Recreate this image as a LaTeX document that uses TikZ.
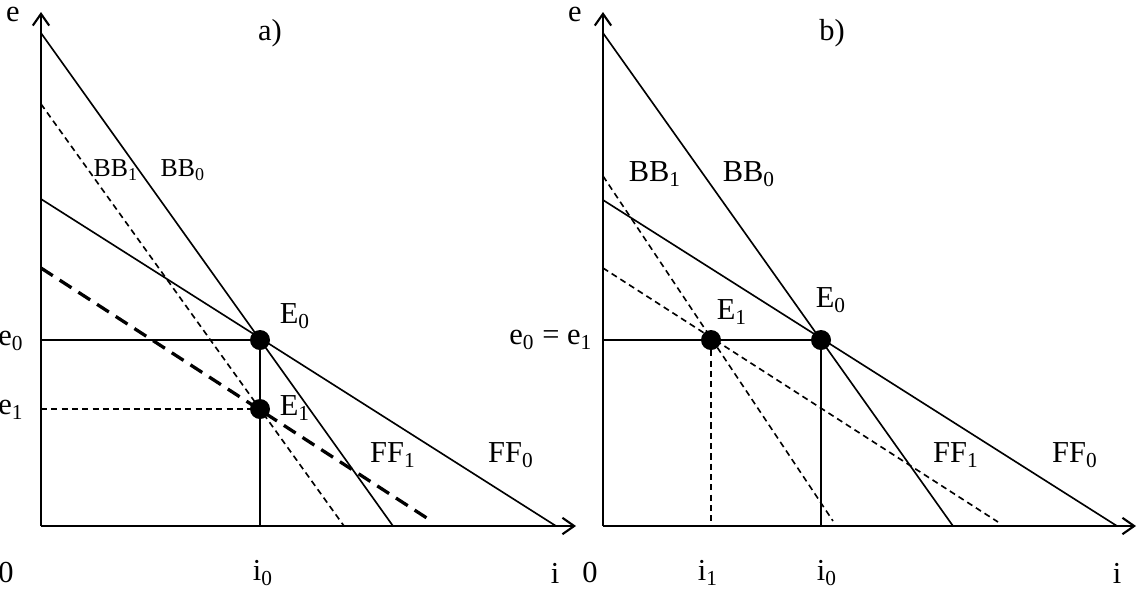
\documentclass[tikz,border=0pt]{standalone}
\usepackage{fontspec}
\setmainfont{Liberation Serif}
\usetikzlibrary{arrows.meta}

\begin{document}
\begin{tikzpicture}[x=0.015cm, y=-0.015cm, line width=0.7pt,
  axis/.style={line width=0.9pt, -{Straight Barb[length=5pt,width=7pt]}},
  shortdash/.style={dash pattern=on 2.6pt off 1.8pt},
  longdash/.style={line width=1.4pt, dash pattern=on 6pt off 3.5pt},
  dot/.style={circle, fill, inner sep=0pt, minimum size=0.3cm},
  lbl/.style={font=\fontsize{13}{15}\selectfont, inner sep=0pt},
  sml/.style={font=\fontsize{11}{13}\selectfont, inner sep=0pt}]
  \useasboundingbox (0,0) rectangle (1137,590);

  % a)
  \coordinate (Oa) at (41,526);
  \coordinate (ya) at (41,12);
  \coordinate (xa) at (576,526);
  \coordinate (bb0a) at (41,33);   \coordinate (bb0a') at (393,526);
  \coordinate (ff0a) at (41,199);  \coordinate (ff0a') at (556,526);
  \coordinate (bb1a) at (41,104);  \coordinate (bb1a') at (344,526);
  \coordinate (ff1a) at (41,268);  \coordinate (ff1a') at (433,522);
  \coordinate (e0a) at (41,340);   \coordinate (e1a) at (41,409);
  \coordinate (i0a) at (260,526);
  \draw[axis] (Oa) -- (ya);
  \draw[axis] (Oa) -- (xa);
  \draw (bb0a) -- (bb0a');
  \draw (ff0a) -- (ff0a');
  \draw[shortdash] (bb1a) -- (bb1a');
  \draw[longdash] (ff1a) -- (ff1a');
  \node[dot] (E0a) at (260,340) {};
  \node[dot] (E1a) at (260,409) {};
  \draw (e0a) -- (E0a.center) -- (i0a);
  \draw[shortdash] (e1a) -- (E1a.center);

  \node[lbl] (ea) at (13,14) {e};
  \node[lbl] (ta) at (270,33) {a)};
  \node[sml] (bb1la) at (116,170) {BB\textsubscript{1}};
  \node[sml] (bb0la) at (183,170) {BB\textsubscript{0}};
  \node[lbl, anchor=west] (E0la) at (279,316) {E\textsubscript{0}};
  \node[lbl, anchor=west] (E1la) at (279,408) {E\textsubscript{1}};
  \node[lbl] (e0la) at (11,341) {e\textsubscript{0}};
  \node[lbl] (e1la) at (11,410) {e\textsubscript{1}};
  \node[lbl] (ff1la) at (393,455) {FF\textsubscript{1}};
  \node[lbl] (ff0la) at (511,455) {FF\textsubscript{0}};
  \node[lbl] (za) at (6,573) {0};
  \node[lbl] (i0la) at (263,573) {i\textsubscript{0}};
  \node[lbl] (ia) at (555,573) {i};

  % b)
  \coordinate (Ob) at (603,526);
  \coordinate (yb) at (603,12);
  \coordinate (xb) at (1136,526);
  \coordinate (bb0b) at (603,33);   \coordinate (bb0b') at (953,526);
  \coordinate (ff0b) at (603,200);  \coordinate (ff0b') at (1117,526);
  \coordinate (bb1b) at (603,176);  \coordinate (bb1b') at (833,521);
  \coordinate (ff1b) at (603,268);  \coordinate (ff1b') at (998,522);
  \coordinate (eb) at (603,340);
  \coordinate (i0b) at (821,526);   \coordinate (i1b) at (711,526);
  \draw[axis] (Ob) -- (yb);
  \draw[axis] (Ob) -- (xb);
  \draw (bb0b) -- (bb0b');
  \draw (ff0b) -- (ff0b');
  \draw[shortdash] (bb1b) -- (bb1b');
  \draw[shortdash] (ff1b) -- (ff1b');
  \node[dot] (E0b) at (821,340) {};
  \node[dot] (E1b) at (711,340) {};
  \draw (eb) -- (E0b.center) -- (i0b);
  \draw[shortdash] (E1b.center) -- (i1b);

  \node[lbl] (eb') at (575,14) {e};
  \node[lbl] (tb) at (832,33) {b)};
  \node[lbl] (bb1lb) at (655,174) {BB\textsubscript{1}};
  \node[lbl] (bb0lb) at (749,174) {BB\textsubscript{0}};
  \node[lbl] (E1lb) at (732,312) {E\textsubscript{1}};
  \node[lbl] (E0lb) at (831,300) {E\textsubscript{0}};
  \node[lbl] (elb) at (551,340) {e\textsubscript{0} = e\textsubscript{1}};
  \node[lbl] (ff1lb) at (956,455) {FF\textsubscript{1}};
  \node[lbl] (ff0lb) at (1075,455) {FF\textsubscript{0}};
  \node[lbl] (zb) at (590,573) {0};
  \node[lbl] (i1lb) at (708,573) {i\textsubscript{1}};
  \node[lbl] (i0lb) at (827,573) {i\textsubscript{0}};
  \node[lbl] (ib) at (1117,573) {i};
\end{tikzpicture}
\end{document}
